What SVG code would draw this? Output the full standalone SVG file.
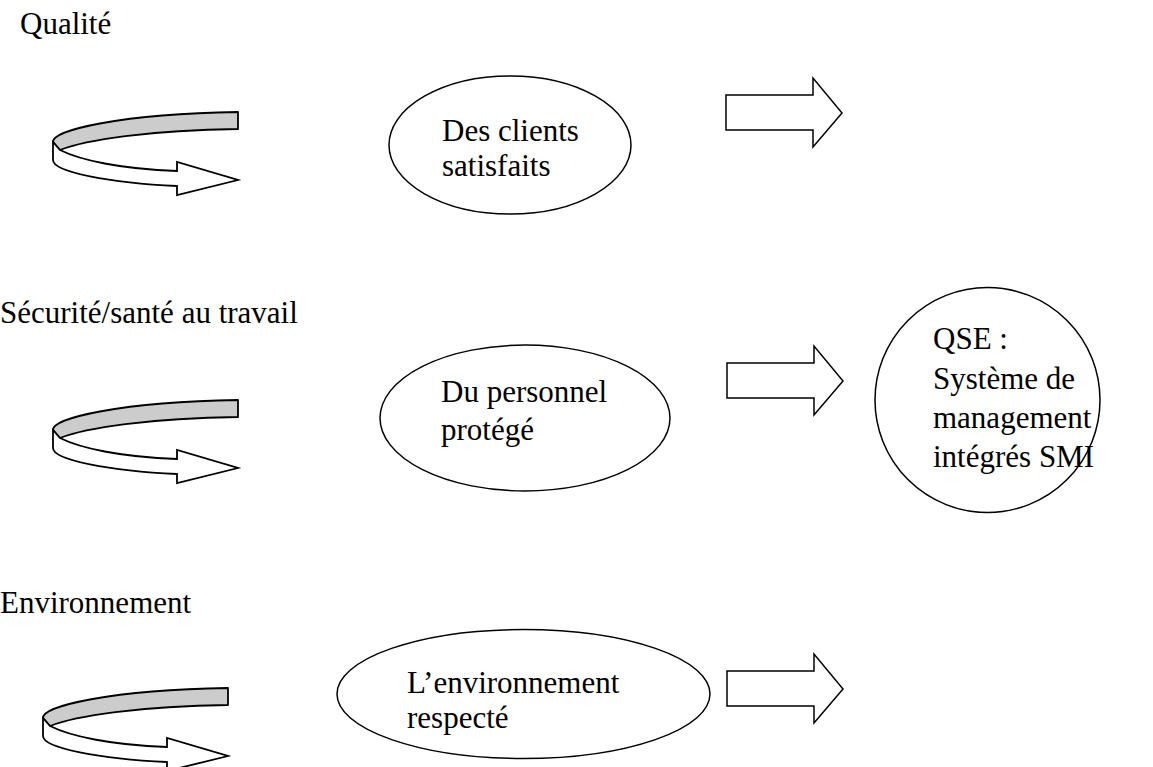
<svg xmlns="http://www.w3.org/2000/svg" width="1153" height="767" viewBox="0 0 1153 767">
  <style>
    text { font-family: "Liberation Serif", "Times New Roman", serif; font-size: 31px; fill: #000; }
    .shape { fill: #fff; stroke: #000; stroke-width: 1.5; }
    .band { fill: #cccccc; stroke: #000; stroke-width: 1.8; stroke-linejoin: round; }
    .front { fill: #fff; stroke: #000; stroke-width: 1.8; stroke-linejoin: miter; }
  </style>
  <defs>
    <!-- ribbon-style curved arrow: grey back band, white front band with head -->
    <g id="curl">
      <path class="band" d="M238,112 L238,129 C150,130 85,140 60,150 L53,142 C53,130 120,114 238,112 Z"/>
      <path class="front" d="M53,142 L53,160 C53,172 110,183 177,186 L177,195 L238,180 L177,162 L177,171 C120,169 80,160 60,150 Z"/>
    </g>
    <path id="block" class="shape" d="M726,95 L813,95 L813,78 L842,113 L813,147 L813,130 L726,130 Z"/>
  </defs>

  <!-- row labels -->
  <g id="labels">
    <text x="20" y="34">Qualité</text>
    <text x="0" y="323">Sécurité/santé au travail</text>
    <text x="0" y="613">Environnement</text>
  </g>

  <g id="connectors">
    <use href="#curl"/>
    <use href="#curl" transform="translate(0,288)"/>
    <use href="#curl" transform="translate(-10,576)"/>
    <use href="#block"/>
    <use href="#block" transform="translate(1,268)"/>
    <use href="#block" transform="translate(1,576)"/>
  </g>

  <g id="node-clients">
    <ellipse class="shape" cx="510" cy="145" rx="121" ry="69"/>
    <text x="442" y="141">Des clients</text>
    <text x="442" y="176">satisfaits</text>
  </g>

  <g id="node-personnel">
    <ellipse class="shape" cx="525" cy="418" rx="145" ry="73"/>
    <text x="441" y="402">Du personnel</text>
    <text x="441" y="440">protégé</text>
  </g>

  <g id="node-environnement">
    <ellipse class="shape" cx="523.5" cy="694" rx="186.5" ry="64.5"/>
    <text x="407" y="693">L’environnement</text>
    <text x="407" y="728">respecté</text>
  </g>

  <g id="node-qse">
    <circle class="shape" cx="987.5" cy="400" r="112.5"/>
    <text x="933" y="349">QSE :</text>
    <text x="933" y="389">Système de</text>
    <text x="933" y="428">management</text>
    <text x="933" y="467">intégrés SMI</text>
  </g>
</svg>
